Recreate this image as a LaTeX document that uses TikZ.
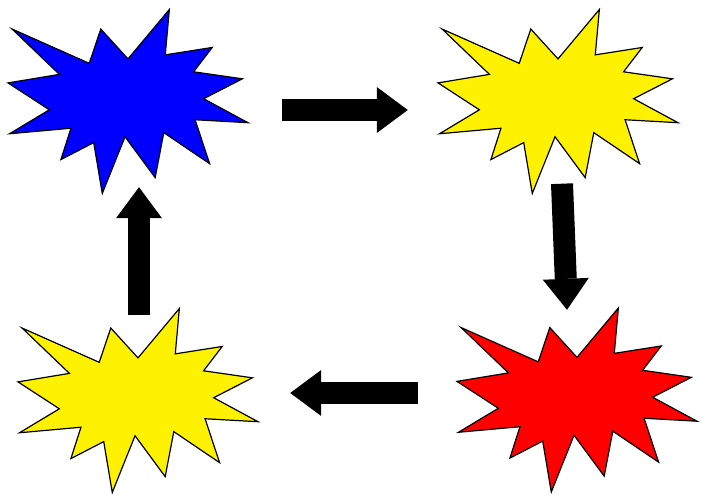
\documentclass[tikz,border=0pt]{standalone}
\usetikzlibrary{arrows.meta}

\tikzset{
    % starburst, fitted into a 240 x 184 box
    pics/burst/.style={code={
        \node[inner sep=0pt, minimum width=240pt, minimum height=184pt] (-box) {};
        \filldraw[draw=black, line width=1.2pt, fill=#1,
            xscale=240/216, yscale=184/216, shift={(-108,-108)}]
            (108,58) -- (145.22,0) -- (141.55,53.25) -- (183.80,44.57)
            -- (167.02,73.15) -- (210.97,81.37) -- (176.07,104.75)
            -- (216,132.90) -- (168.37,129.42) -- (181.45,180.95)
            -- (140.20,144.57) -- (132.47,197.37) -- (105.32,149.35)
            -- (84.85,216) -- (77.15,156.27) -- (47.62,176.17)
            -- (56.67,139.37) -- (1.35,145.87) -- (37.22,117.75)
            -- (0,86.15) -- (46.27,76.17) -- (3.70,22.95)
            -- (73.12,63.20) -- (83.52,22.95) -- cycle;
    }},
    blockarrow/.style={line width=22pt, -{Triangle[length=31pt, width=46pt, line width=0pt]}}
}

\begin{document}
\begin{tikzpicture}[x=1pt, y=-1pt]
    \useasboundingbox (0,0) rectangle (702,495);

    % Starbursts
    \pic (blue) at (128,101.5) {burst=blue};   % top left
    \pic (gold) at (558,101.5) {burst=yellow}; % top right
    \pic (red)  at (577,400)   {burst=red};    % bottom right
    \pic (sun)  at (138,400.5) {burst=yellow}; % bottom left

    % Block arrows, clockwise
    \draw[blockarrow, shorten <=34pt, shorten >=30pt]
        ([yshift=-8.5pt]blue-box.east) -- ([yshift=-8.5pt]gold-box.west);
    \draw[blockarrow]
        ([xshift=4pt, yshift=10pt]gold-box.south) -- ([xshift=-10pt, yshift=-2pt]red-box.north);
    \draw[blockarrow, shorten <=39pt, shorten >=32pt]
        ([yshift=7pt]red-box.west) -- ([yshift=7.5pt]sun-box.east);
    \draw[blockarrow]
        ([xshift=1pt, yshift=-7pt]sun-box.north) -- ([xshift=11pt, yshift=6.5pt]blue-box.south);

\end{tikzpicture}
\end{document}
